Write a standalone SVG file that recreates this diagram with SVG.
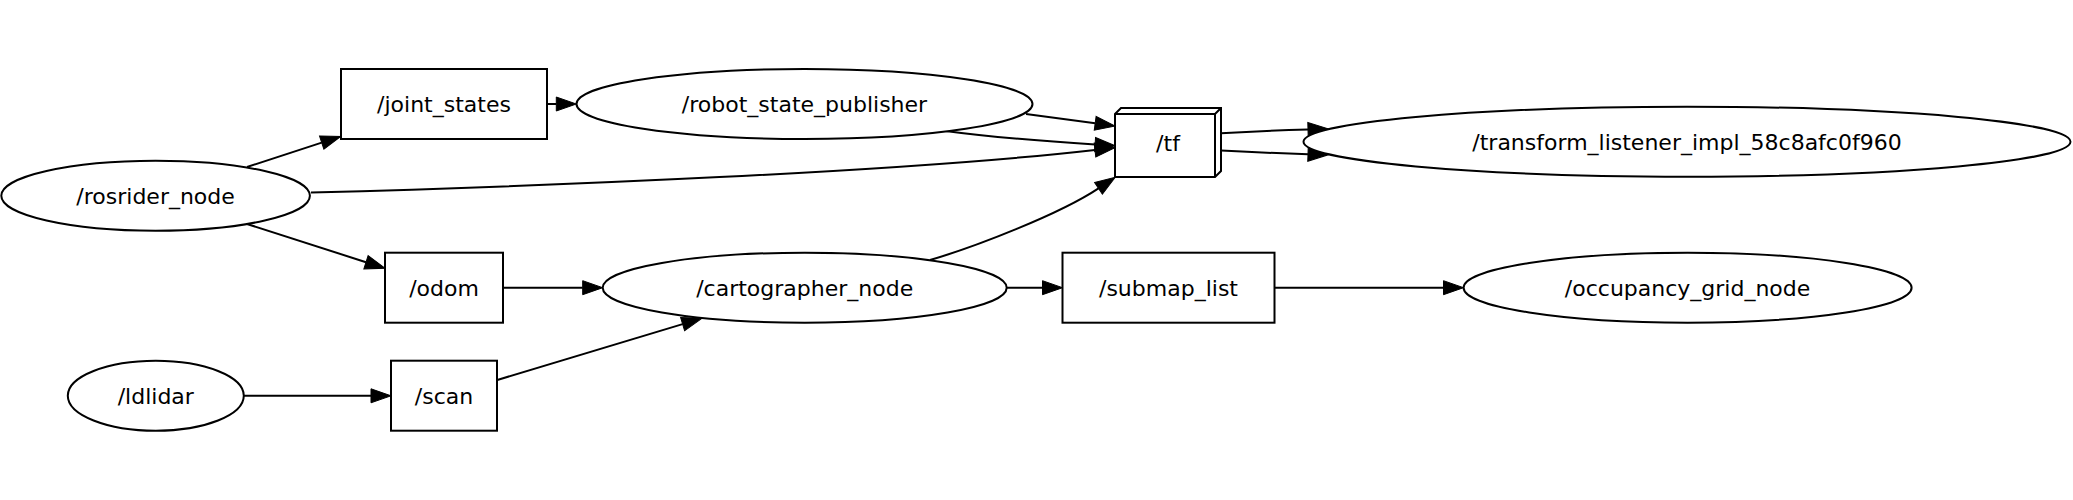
<svg xmlns="http://www.w3.org/2000/svg" width="2073" height="500" viewBox="0 0 2073 500">
<style>
.n{fill:#fff;stroke:#000;stroke-width:2}
.t{font-family:"DejaVu Sans","Liberation Sans",sans-serif;font-size:22px;text-anchor:middle;fill:#000}
.e{fill:none;stroke:#000;stroke-width:2;marker-end:url(#ah)}
</style>
<defs>
<marker id="ah" markerUnits="userSpaceOnUse" markerWidth="20" markerHeight="14" viewBox="0 0 20 14" refX="0" refY="7" orient="auto" overflow="visible">
<path d="M0,0 L20,7 L0,14 z" fill="#000" stroke="#000" stroke-width="1"/>
</marker>
</defs>
<rect width="2073" height="500" fill="#fff"/>
<g id="connectors">
<path class="e" d="M247,167 L321.7,142.6"/>
<path class="e" d="M247,224 L366,262.2"/>
<path class="e" d="M311,192.5 C550,186 900,172 1095,150"/>
<path class="e" d="M547.3,104 L556.3,104"/>
<path class="e" d="M1026,114 L1095.2,123.3"/>
<path class="e" d="M945.5,131 C990,137 1040,141 1095.1,144.5"/>
<path class="e" d="M503,287.7 L582.7,287.7"/>
<path class="e" d="M243.8,395.8 L371,395.8"/>
<path class="e" d="M497.3,380 L682.6,324.1"/>
<path class="e" d="M930,260 C975,247 1060,214 1098.5,188.4"/>
<path class="e" d="M1006.7,287.7 L1042.5,287.7"/>
<path class="e" d="M1274.6,287.7 L1443.5,287.7"/>
<path class="e" d="M1221,133.3 C1250,131.5 1280,130.2 1308,129.4"/>
<path class="e" d="M1221,150.5 C1250,152 1280,153.3 1308,154.2"/>
</g>
<g id="node_joint_states">
<rect class="n" x="341" y="69" width="206" height="70"/>
<text class="t" x="444" y="112">/joint_states</text>
</g>
<g id="node_robot_state_publisher">
<ellipse class="n" cx="804.5" cy="104" rx="228" ry="35"/>
<text class="t" x="804.5" y="112">/robot_state_publisher</text>
</g>
<g id="node_tf">
<path class="n" d="M1115,114 L1121,108 L1221,108 L1221,171 L1215,177 L1115,177 z"/>
<path fill="none" stroke="#000" stroke-width="2" d="M1115,114 L1215,114 L1215,177 M1215,114 L1221,108"/>
<text class="t" x="1168" y="151">/tf</text>
</g>
<g id="node_transform_listener">
<ellipse class="n" cx="1687" cy="141.7" rx="383.5" ry="35"/>
<text class="t" x="1687" y="149.7">/transform_listener_impl_58c8afc0f960</text>
</g>
<g id="node_rosrider_node">
<ellipse class="n" cx="155.6" cy="195.8" rx="154.3" ry="35"/>
<text class="t" x="155.6" y="203.8">/rosrider_node</text>
</g>
<g id="node_odom">
<rect class="n" x="385" y="252.7" width="118" height="70"/>
<text class="t" x="444" y="295.7">/odom</text>
</g>
<g id="node_cartographer_node">
<ellipse class="n" cx="804.7" cy="287.7" rx="202" ry="35"/>
<text class="t" x="804.7" y="295.7">/cartographer_node</text>
</g>
<g id="node_submap_list">
<rect class="n" x="1062.5" y="252.7" width="212" height="70"/>
<text class="t" x="1168.5" y="295.7">/submap_list</text>
</g>
<g id="node_occupancy_grid_node">
<ellipse class="n" cx="1687.6" cy="287.7" rx="224" ry="35"/>
<text class="t" x="1687.6" y="295.7">/occupancy_grid_node</text>
</g>
<g id="node_ldlidar">
<ellipse class="n" cx="155.8" cy="395.8" rx="88" ry="35"/>
<text class="t" x="155.8" y="403.8">/ldlidar</text>
</g>
<g id="node_scan">
<rect class="n" x="391" y="360.7" width="106" height="70"/>
<text class="t" x="444" y="403.8">/scan</text>
</g>
</svg>
